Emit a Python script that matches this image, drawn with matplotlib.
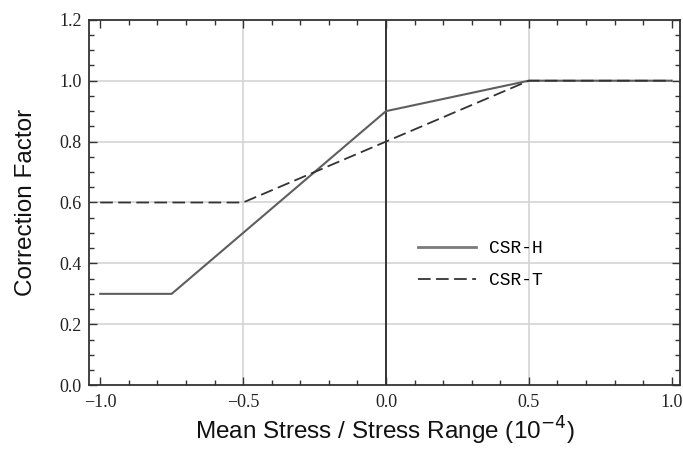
import matplotlib
matplotlib.use("Agg")
import matplotlib.pyplot as plt
from matplotlib.ticker import MultipleLocator

# data
csr_h_x = [-1.0, -0.75, 0.0, 0.5, 1.0]
csr_h_y = [0.3, 0.3, 0.9, 1.0, 1.0]
csr_t_x = [-1.0, -0.5, 0.0, 0.5, 1.0]
csr_t_y = [0.6, 0.6, 0.8, 1.0, 1.0]

x_ticks = [-1.0, -0.5, 0.0, 0.5, 1.0]
y_ticks = [0.0, 0.2, 0.4, 0.6, 0.8, 1.0, 1.2]

fig = plt.figure(figsize=(6.83, 4.5), dpi=100)
ax = fig.add_axes([0.130, 0.144, 0.866, 0.812])

for y in y_ticks[1:-1]:
    ax.axhline(y, color="#d4d4d4", lw=1.2, zorder=0)
for x in (-0.5, 0.5):
    ax.axvline(x, color="#d4d4d4", lw=1.2, zorder=0)
ax.axvline(0.0, color="#333333", lw=1.4, zorder=1)

ax.plot(csr_h_x, csr_h_y, color="#5e5e5e", lw=1.5, label="CSR-H", zorder=3)
ax.plot(csr_t_x, csr_t_y, color="#333333", lw=1.3, dashes=(7, 3), label="CSR-T", zorder=3)

ax.set_xlim(-1.04, 1.03)
ax.set_ylim(0.0, 1.2)
ax.set_xticks(x_ticks)
ax.set_yticks(y_ticks)
ax.xaxis.set_minor_locator(MultipleLocator(0.1))
ax.yaxis.set_minor_locator(MultipleLocator(0.05))
ax.tick_params(which="both", direction="in", top=True, right=True, color="#333333", width=1.0)
ax.tick_params(which="major", length=6)
ax.tick_params(which="minor", length=3.5)
ax.tick_params(axis="x", pad=6)
ax.tick_params(axis="y", pad=5)
for spine in ax.spines.values():
    spine.set_color("#333333")
    spine.set_linewidth(1.3)

ax.set_xticklabels([f"{v:.1f}".replace("-", "\u2212") for v in x_ticks])
ax.set_yticklabels([f"{v:.1f}" for v in y_ticks])
for lbl in ax.get_xticklabels() + ax.get_yticklabels():
    lbl.set_family("Liberation Serif")
    lbl.set_fontsize(13)
    lbl.set_color("#222222")

ax.set_xlabel("Mean Stress / Stress Range (10$^{-4}$)", family="Liberation Sans", fontsize=17.5,
              color="#111111", labelpad=3)
ax.set_ylabel("Correction Factor", family="Liberation Sans", fontsize=17.5, color="#111111", labelpad=16)

ax.legend(loc="center left", bbox_to_anchor=(0.557, 0.33), frameon=False,
          prop={"family": "Liberation Mono", "size": 13},
          handlelength=3.2, handletextpad=0.7, labelspacing=0.85, borderpad=0, borderaxespad=0)
leg_lines = ax.get_legend().get_lines()
leg_lines[0].set_color("#7a7a7a")
leg_lines[0].set_linewidth(2.0)

fig.savefig("out.png", dpi=100)
